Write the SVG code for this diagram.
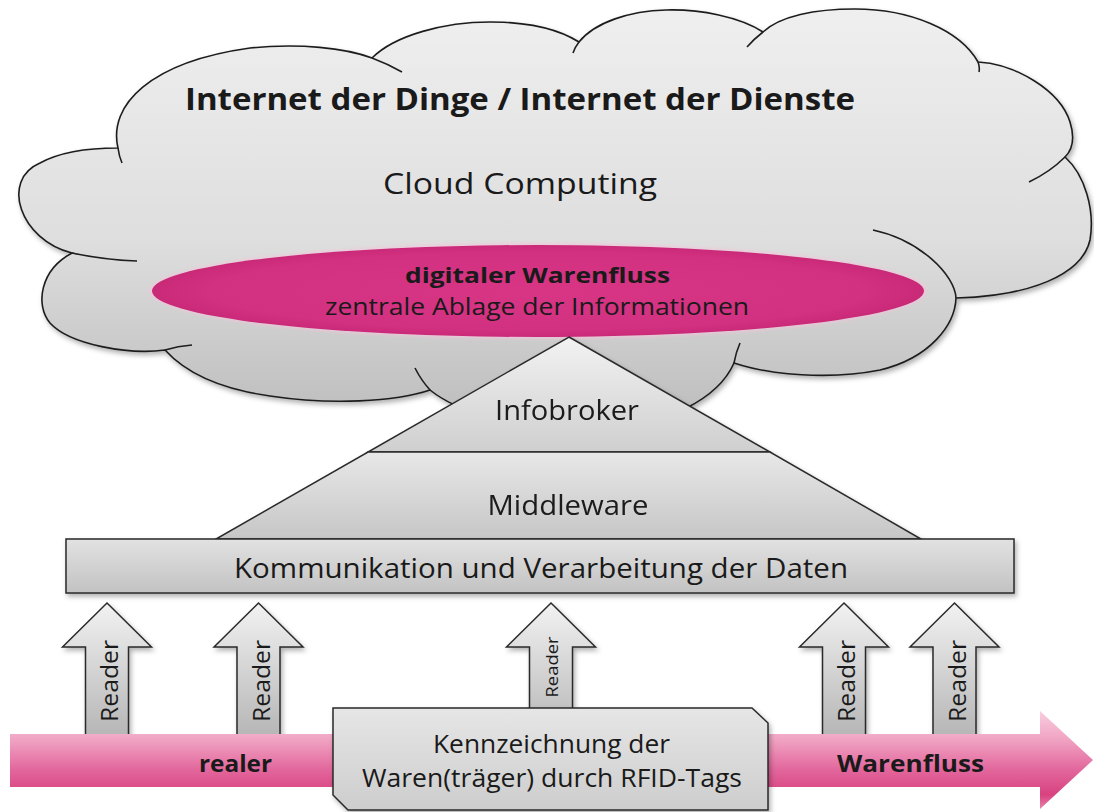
<svg xmlns="http://www.w3.org/2000/svg" width="1094" height="812" viewBox="0 0 1094 812">
<defs>
<linearGradient id="gCloud" x1="0" y1="10" x2="0" y2="430" gradientUnits="userSpaceOnUse">
<stop offset="0" stop-color="#efefef"/><stop offset="0.55" stop-color="#dedede"/><stop offset="1" stop-color="#bbbbbb"/>
</linearGradient>
<radialGradient id="gPink" cx="0.5" cy="0.5" r="0.5">
<stop offset="0" stop-color="#d83585"/><stop offset="0.85" stop-color="#d23080"/><stop offset="1" stop-color="#c92a78"/>
</radialGradient>
<linearGradient id="gTop" x1="0" y1="337" x2="0" y2="452" gradientUnits="userSpaceOnUse">
<stop offset="0" stop-color="#f2f2f2"/><stop offset="1" stop-color="#cfcfcf"/>
</linearGradient>
<linearGradient id="gMid" x1="0" y1="452" x2="0" y2="539" gradientUnits="userSpaceOnUse">
<stop offset="0" stop-color="#e8e8e8"/><stop offset="1" stop-color="#c6c6c6"/>
</linearGradient>
<linearGradient id="gRect" x1="0" y1="0" x2="0" y2="1">
<stop offset="0" stop-color="#e2e2e2"/><stop offset="1" stop-color="#c2c2c2"/>
</linearGradient>
<linearGradient id="gReader" x1="0" y1="603" x2="0" y2="740" gradientUnits="userSpaceOnUse">
<stop offset="0" stop-color="#f2f2f2"/><stop offset="1" stop-color="#b4b4b4"/>
</linearGradient>
<linearGradient id="gFlow" x1="0" y1="710" x2="0" y2="810" gradientUnits="userSpaceOnUse">
<stop offset="0" stop-color="#f9d0e0"/><stop offset="0.3" stop-color="#f0a2c2"/><stop offset="0.6" stop-color="#e2669c"/><stop offset="0.85" stop-color="#d8427f"/><stop offset="1" stop-color="#e88ab0"/>
</linearGradient>
<linearGradient id="gBox" x1="0" y1="708" x2="0" y2="810" gradientUnits="userSpaceOnUse">
<stop offset="0" stop-color="#e6e6e6"/><stop offset="1" stop-color="#cdcdcd"/>
</linearGradient>
<filter id="shadow" x="-10%" y="-10%" width="120%" height="130%">
<feDropShadow dx="2" dy="3" stdDeviation="2.5" flood-color="#000" flood-opacity="0.3"/>
</filter>
<filter id="glow" x="-10%" y="-30%" width="120%" height="160%">
<feGaussianBlur stdDeviation="1.5"/>
</filter>
</defs>
<style>
.t{font-family:"Open Sans","Noto Sans","Liberation Sans",sans-serif;fill:#1a1a1a;text-anchor:middle}
.b{font-weight:bold}
.ln{fill:none;stroke:#1e1e1e;stroke-width:1.6}
.sh{stroke:#2a2a2a;stroke-width:1.5}
.rd{fill:url(#gReader);stroke:#2a2a2a;stroke-width:1.5;stroke-linejoin:miter}
</style>
<rect width="1094" height="812" fill="#ffffff"/>

<g id="cloud">
<path filter="url(#shadow)" fill="url(#gCloud)" stroke="#1e1e1e" stroke-width="1.6" d="M72,253 C20,240 0,180 40,163 C60,152 90,148 118,148 C108,105 150,62 250,48 C300,43 345,48 372,58 C395,35 445,22 490,22 C530,22 560,30 579,42 C595,22 630,11 666,10 C700,9 740,17 763,32 C780,16 815,9 855,9 C910,9 960,30 978,62 C1015,64 1060,90 1070,122 C1075,138 1072,150 1065,157 C1085,175 1095,210 1090,240 C1082,275 1030,296 956,298 C955,325 930,358 880,370 C830,380 770,375 734,363 C720,395 670,430 580,430 C510,430 455,410 430,390 C395,402 330,405 270,396 C220,389 185,372 165,350 C130,355 70,345 50,323 C35,305 40,270 72,253 Z"/>
<path class="ln" d="M72,253 Q105,260 137,261 M118,148 Q119,156 122,163 M372,58 Q388,64 402,72 M579,42 Q575,47 573,53 M763,32 Q754,39 747,47 M978,62 Q980,67 979,72 M1065,157 Q1050,172 1029,182 M956,298 C955,275 920,240 873,230 M734,363 Q736,352 740,343 M430,390 Q421,380 415,368 M165,350 Q178,346 192,345"/>
<text class="t b" x="520" y="110" font-size="30" textLength="670" lengthAdjust="spacingAndGlyphs">Internet der Dinge / Internet der Dienste</text>
<text class="t" x="520" y="194" font-size="30" textLength="274" lengthAdjust="spacingAndGlyphs">Cloud Computing</text>
</g>

<g id="digitaler-warenfluss">
<ellipse cx="538" cy="291" rx="389" ry="48" fill="#f3c4da" opacity="0.7" filter="url(#glow)"/>
<ellipse cx="538" cy="291" rx="386" ry="46" fill="url(#gPink)"/>
<text class="t b" x="537.5" y="283" font-size="22" textLength="265" lengthAdjust="spacingAndGlyphs" fill="#2a0f1c">digitaler Warenfluss</text>
<text class="t" x="537" y="315" font-size="24" textLength="424" lengthAdjust="spacingAndGlyphs" fill="#2a0f1c">zentrale Ablage der Informationen</text>
</g>

<g id="pyramid" filter="url(#shadow)">
<g id="infobroker">
<polygon points="569,337 770,452 368,452" fill="url(#gTop)" class="sh"/>
<text class="t" x="567" y="420" font-size="28" textLength="144" lengthAdjust="spacingAndGlyphs">Infobroker</text>
</g>
<g id="middleware">
<polygon points="368,452 770,452 921,539 216,539" fill="url(#gMid)" class="sh"/>
<text class="t" x="568" y="515" font-size="28" textLength="161" lengthAdjust="spacingAndGlyphs">Middleware</text>
</g>
</g>

<g id="kommunikation">
<rect x="66" y="539" width="948" height="54" fill="url(#gRect)" class="sh" filter="url(#shadow)"/>
<text class="t" x="541" y="578" font-size="28" textLength="614" lengthAdjust="spacingAndGlyphs">Kommunikation und Verarbeitung der Daten</text>
</g>

<g id="connectors">
<g id="reader1">
<polygon class="rd" filter="url(#shadow)" points="107,603 151.5,647 128.5,647 128.5,742 85.5,742 85.5,647 62.5,647"/>
<text class="t" transform="translate(118,681) rotate(-90)" font-size="24" textLength="82" lengthAdjust="spacingAndGlyphs">Reader</text>
</g>
<g id="reader2">
<polygon class="rd" filter="url(#shadow)" points="258.5,603 303,647 280,647 280,742 237,742 237,647 214,647"/>
<text class="t" transform="translate(269.5,681) rotate(-90)" font-size="24" textLength="82" lengthAdjust="spacingAndGlyphs">Reader</text>
</g>
<g id="reader3">
<polygon class="rd" filter="url(#shadow)" points="551,603 595.5,647 572.5,647 572.5,730 529.5,730 529.5,647 506.5,647"/>
<text class="t" transform="translate(558,667) rotate(-90)" font-size="17" textLength="61" lengthAdjust="spacingAndGlyphs">Reader</text>
</g>
<g id="reader4">
<polygon class="rd" filter="url(#shadow)" points="844,603 888.5,647 865.5,647 865.5,742 822.5,742 822.5,647 799.5,647"/>
<text class="t" transform="translate(855,681) rotate(-90)" font-size="24" textLength="82" lengthAdjust="spacingAndGlyphs">Reader</text>
</g>
<g id="reader5">
<polygon class="rd" filter="url(#shadow)" points="954.5,603 999,647 976,647 976,742 933,742 933,647 910,647"/>
<text class="t" transform="translate(965.5,681) rotate(-90)" font-size="24" textLength="82" lengthAdjust="spacingAndGlyphs">Reader</text>
</g>
</g>

<g id="realer-warenfluss">
<polygon points="10,734 1040,734 1040,711 1093,760 1040,809 1040,787 10,787" fill="url(#gFlow)"/>
<text class="t b" x="235.5" y="772" font-size="23" textLength="73" lengthAdjust="spacingAndGlyphs">realer</text>
<text class="t b" x="910.5" y="772" font-size="23" textLength="147" lengthAdjust="spacingAndGlyphs">Warenfluss</text>
</g>

<g id="rfid-tags">
<polygon points="333,708 752,708 768,723 768,810 348,810 333,795" fill="url(#gBox)" class="sh" filter="url(#shadow)"/>
<text class="t" x="551.5" y="753" font-size="25" textLength="237" lengthAdjust="spacingAndGlyphs">Kennzeichnung der</text>
<text class="t" x="552" y="787" font-size="25" textLength="380" lengthAdjust="spacingAndGlyphs">Waren(träger) durch RFID-Tags</text>
</g>
</svg>
